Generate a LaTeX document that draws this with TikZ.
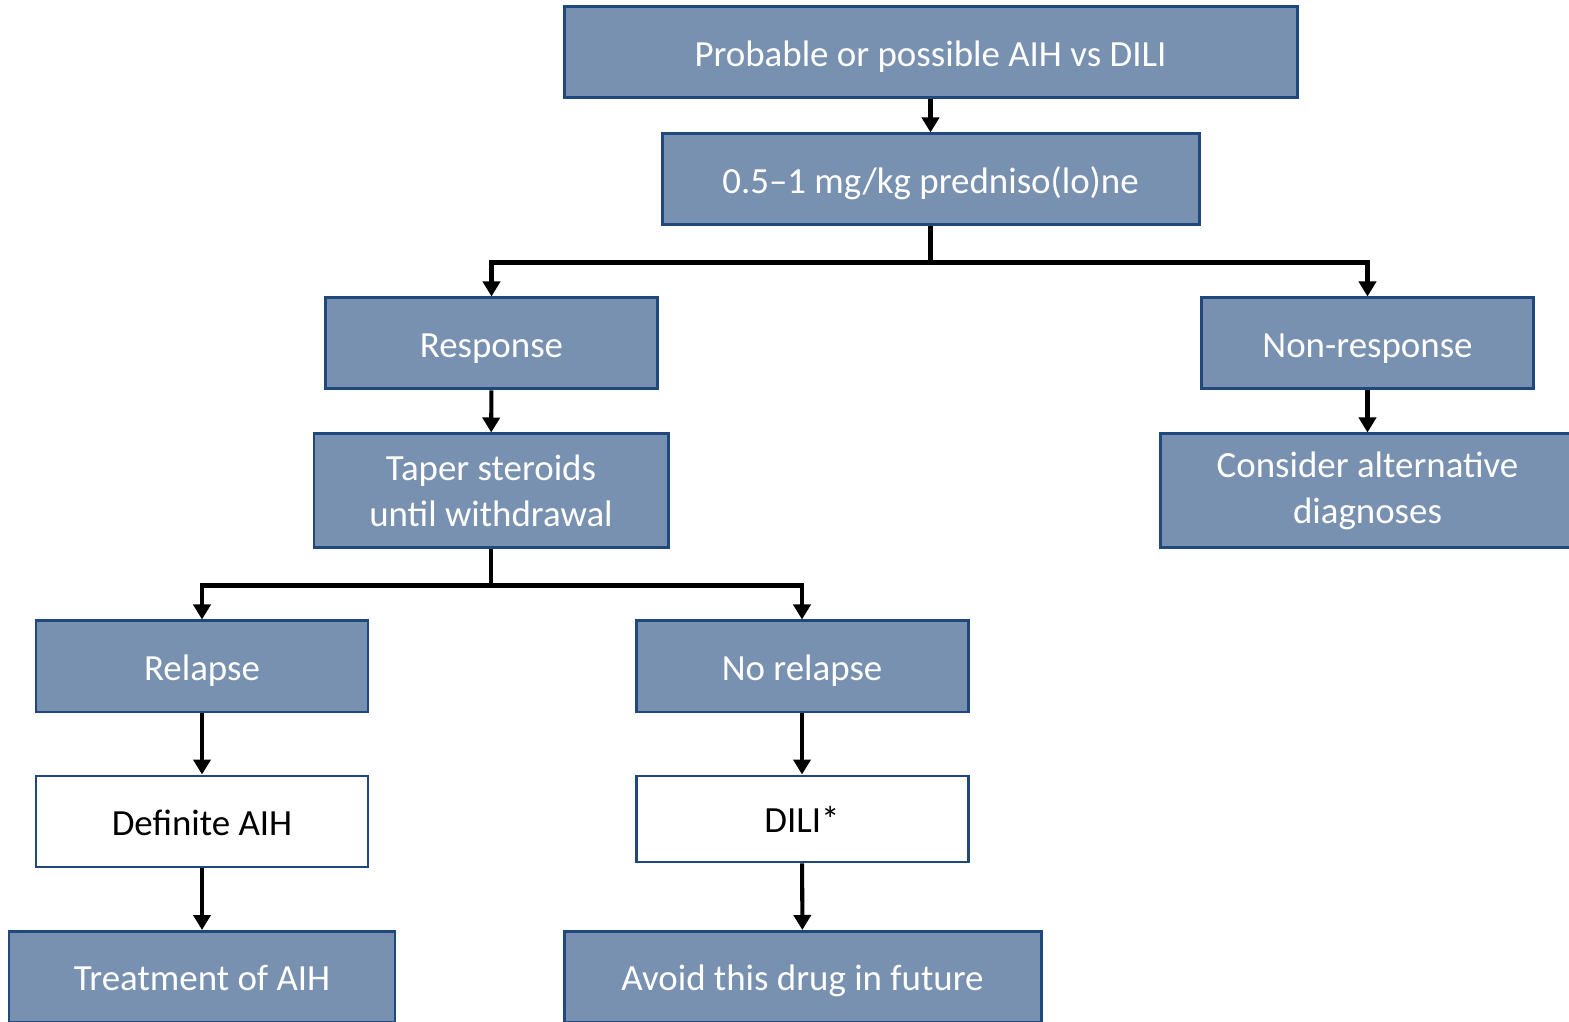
\documentclass[tikz,border=0pt]{standalone}
\usepackage{fontspec}
\setmainfont{Carlito}
\usepackage{tikz}
\usetikzlibrary{arrows.meta, positioning, calc}
\definecolor{boxblue}{RGB}{120, 145, 176}
\definecolor{edgeblue}{RGB}{33, 72, 124}

\begin{document}
\begin{tikzpicture}[
    boxbase/.style={rectangle, draw=edgeblue, line width=1.7pt, fill=boxblue, text=white,
        minimum width=6.64cm, minimum height=1.82cm, font=\fontsize{21}{26}\selectfont, align=center},
    bluebox/.style={boxbase, text height=0.64cm, text depth=0.08cm},
    tallbox/.style={boxbase, minimum height=2.28cm},
    whitebox/.style={bluebox, fill=white, text=black},
    arr/.style={line width=2.3pt, -{Triangle[width=0.34cm,length=0.3cm]}}
]
\useasboundingbox (0,0) rectangle (31.38,20.44);

\node[bluebox, minimum width=14.66cm] (start) at (18.61,19.39) {Probable or possible AIH vs DILI};
\node[bluebox, minimum width=10.74cm] (pred) at (18.61,16.85) {0.5--1 mg/kg predniso(lo)ne};

\node[bluebox] (resp) at (9.83,13.57) {Response};
\node[bluebox] (nonresp) at (27.35,13.57) {Non-response};

\node[tallbox, minimum width=7.08cm] (taper) at (9.82,10.62) {Taper steroids\\until withdrawal};
\node[tallbox, minimum width=8.3cm] (altdiag) at (27.35,10.62) {Consider alternative\\diagnoses};

\node[bluebox] (relapse) at (4.04,7.11) {Relapse};
\node[bluebox] (norelapse) at (16.04,7.11) {No relapse};

\node[whitebox] (defaih) at (4.04,4.01) {Definite AIH};
\node[whitebox, minimum height=1.72cm] (dili) at (16.04,4.06) {DILI*};

\node[bluebox, minimum width=7.72cm] (treat) at (4.04,0.9) {Treatment of AIH};
\node[bluebox, minimum width=9.54cm] (avoid) at (16.05,0.9) {Avoid this drug in future};

\draw[arr] (start) -- (pred);
\draw[arr] (pred.south) -- ++(0,-0.72) -| (resp.north);
\draw[arr] (pred.south) -- ++(0,-0.72) -| (nonresp.north);
\draw[arr] (resp) -- (taper);
\draw[arr] (nonresp) -- (altdiag);
\draw[arr] (taper.south) -- ++(0,-0.72) -| (relapse.north);
\draw[arr] (taper.south) -- ++(0,-0.72) -| (norelapse.north);
\draw[arr] (relapse) -- (defaih);
\draw[arr] (norelapse) -- (dili);
\draw[arr] (defaih) -- (treat);
\draw[arr] (dili) -- (avoid);
\end{tikzpicture}
\end{document}
